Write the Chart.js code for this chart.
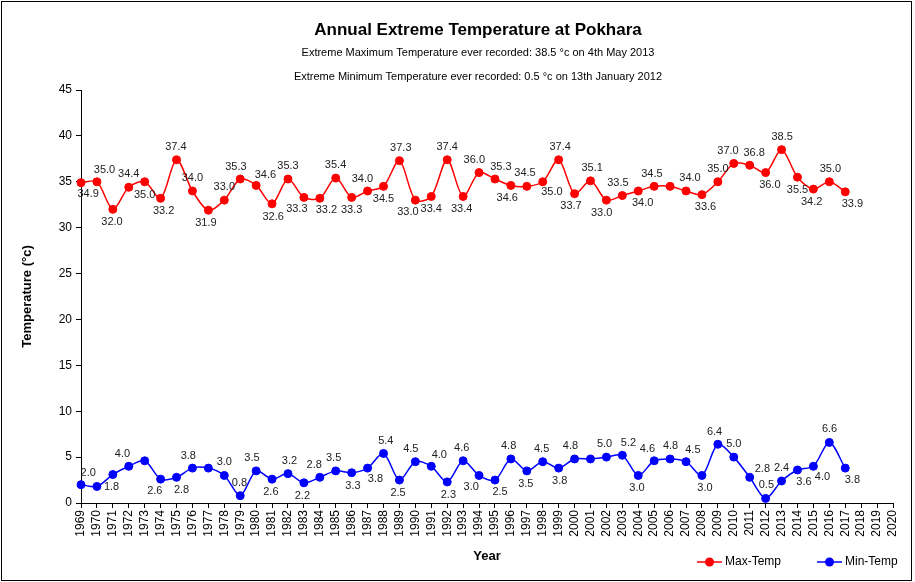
<!DOCTYPE html>
<html>
<head>
<meta charset="utf-8">
<title>Annual Extreme Temperature at Pokhara</title>
<script src="https://cdn.jsdelivr.net/npm/chart.js@4.4.1/dist/chart.umd.min.js"></script>
<style>
  html,body{margin:0;padding:0;background:#fff;}
  #wrap{width:915px;height:582px;position:relative;}
</style>
</head>
<body>
<div id="wrap"><canvas id="chart" width="915" height="582"></canvas></div>
<script>
// ---- data ----
const YEARS = ["1969","1970","1971","1972","1973","1974","1975","1976","1977","1978",
  "1979","1980","1981","1982","1983","1984","1985","1986","1987","1988",
  "1989","1990","1991","1992","1993","1994","1995","1996","1997","1998",
  "1999","2000","2001","2002","2003","2004","2005","2006","2007","2008",
  "2009","2010","2011","2012","2013","2014","2015","2016","2017","2018",
  "2019","2020"];

const MAX_TEMP = [34.9,35.0,32.0,34.4,35.0,33.2,37.4,34.0,31.9,33.0,
  35.3,34.6,32.6,35.3,33.3,33.2,35.4,33.3,34.0,34.5,
  37.3,33.0,33.4,37.4,33.4,36.0,35.3,34.6,34.5,35.0,
  37.4,33.7,35.1,33.0,33.5,34.0,34.5,34.5,34.0,33.6,
  35.0,37.0,36.8,36.0,38.5,35.5,34.2,35.0,33.9];

const MIN_TEMP = [2.0,1.8,3.1,4.0,4.6,2.6,2.8,3.8,3.8,3.0,
  0.8,3.5,2.6,3.2,2.2,2.8,3.5,3.3,3.8,5.4,
  2.5,4.5,4.0,2.3,4.6,3.0,2.5,4.8,3.5,4.5,
  3.8,4.8,4.8,5.0,5.2,3.0,4.6,4.8,4.5,3.0,
  6.4,5.0,2.8,0.5,2.4,3.6,4.0,6.6,3.8];

// years whose value label is not shown in the original
const MAX_NO_LABEL = ["2006"];
const MIN_NO_LABEL = ["1971","1973","1977","2001"];

const Y_TICKS = [0,5,10,15,20,25,30,35,40,45];

const TITLE = "Annual Extreme Temperature at Pokhara";
const SUBTITLES = [
  "Extreme Maximum Temperature ever recorded: 38.5 °c on 4th May 2013",
  "Extreme Minimum Temperature ever recorded: 0.5 °c on 13th January 2012"
];

const FONT = "Arial, 'Liberation Sans', sans-serif";

// ---- plugins ----
const frame = {
  id:"frame",
  beforeDraw(c){
    const ctx=c.ctx;
    ctx.save();
    ctx.fillStyle="#fff";
    ctx.fillRect(0,0,c.width,c.height);
    ctx.strokeStyle="#000";
    ctx.lineWidth=1;
    ctx.strokeRect(1.5,1.5,910,579);
    ctx.restore();
  },
  afterDraw(c){
    const ctx=c.ctx;
    ctx.save();
    ctx.fillStyle="#000";
    ctx.textAlign="center";
    ctx.textBaseline="middle";
    ctx.font="bold 17px "+FONT;
    ctx.fillText(TITLE,478,30);
    ctx.font="11px "+FONT;
    ctx.fillText(SUBTITLES[0],478,53);
    ctx.fillText(SUBTITLES[1],478,77);

    // legend, bottom right
    const items=[{t:"Max-Temp",c:"#ff0000",x:697},{t:"Min-Temp",c:"#0000ff",x:817}];
    ctx.font="12px "+FONT;
    ctx.textAlign="left";
    items.forEach(it=>{
      const y=562;
      ctx.strokeStyle=it.c;
      ctx.lineWidth=1.5;
      ctx.beginPath();ctx.moveTo(it.x,y);ctx.lineTo(it.x+25,y);ctx.stroke();
      ctx.fillStyle=it.c;
      ctx.beginPath();ctx.arc(it.x+12.5,y,4.5,0,Math.PI*2);ctx.fill();
      ctx.fillStyle="#000";
      ctx.fillText(it.t,it.x+28,y);
    });
    ctx.restore();
  }
};

// value labels: try the side away from the neighbouring segments,
// then other sides if it would run into a point or a label already placed
const valueLabels = {
  id:"valueLabels",
  afterDatasetsDraw(c){
    const ctx=c.ctx, area=c.chartArea;
    ctx.save();
    ctx.font="11px "+FONT;
    ctx.fillStyle="#222";
    ctx.textAlign="center";
    ctx.textBaseline="middle";
    const placed=[];
    c.data.datasets.forEach((ds,di)=>{
      c.getDatasetMeta(di).data.forEach(p=>placed.push({x0:p.x-5,x1:p.x+5,y0:p.y-5,y1:p.y+5}));
    });
    const hits=(b)=>b.y1>area.bottom-1||placed.some(o=>b.x0<o.x1&&b.x1>o.x0&&b.y0<o.y1&&b.y1>o.y0);
    c.data.datasets.forEach((ds,di)=>{
      const pts=c.getDatasetMeta(di).data;
      pts.forEach((p,i)=>{
        if(ds.noLabel.includes(YEARS[i])) return;
        const a=pts[i-1], b=pts[i+1];
        let dx=0, dy=0;
        if(a && b){
          [a,b].forEach(q=>{
            const vx=q.x-p.x, vy=q.y-p.y, l=Math.hypot(vx,vy)||1;
            dx-=vx/l; dy-=vy/l;
          });
          if(Math.hypot(dx,dy)<0.35){
            const sx=b.x-a.x, sy=b.y-a.y;
            dx=sy; dy=-sx;
            if(dy>0){dx=-dx;dy=-dy;}
          }
        } else {
          const q=a||b;
          dx=0.5; dy=(q.y<p.y)?1:-1;
        }
        const l=Math.hypot(dx,dy)||1;
        dx/=l; dy/=l;
        const txt=ds.data[i].toFixed(1);
        const w=ctx.measureText(txt).width;
        const cands=[[dx*16,dy*13],[-dx*16,-dy*13],[0,dy<0?-13:13],[0,dy<0?13:-13],
                     [w/2+7,0],[-w/2-7,0]];
        let box=null;
        for(const [ox,oy] of cands){
          const x=p.x+ox, y=p.y+oy;
          const bb={x:x,y:y,x0:x-w/2,x1:x+w/2,y0:y-5.5,y1:y+5.5};
          if(!box) box=bb;
          if(!hits(bb)){box=bb;break;}
        }
        placed.push(box);
        ctx.fillText(txt, box.x, box.y);
      });
    });
    ctx.restore();
  }
};

new Chart(document.getElementById("chart"),{
  type:"line",
  data:{
    labels:YEARS,
    datasets:[
      {label:"Max-Temp", data:MAX_TEMP, noLabel:MAX_NO_LABEL,
       borderColor:"#ff0000", backgroundColor:"#ff0000", borderWidth:1.5,
       pointRadius:4, pointBorderWidth:1, pointHoverRadius:4, tension:0.3},
      {label:"Min-Temp", data:MIN_TEMP, noLabel:MIN_NO_LABEL,
       borderColor:"#0000ff", backgroundColor:"#0000ff", borderWidth:1.5,
       pointRadius:4, pointBorderWidth:1, pointHoverRadius:4, tension:0.3}
    ]
  },
  options:{
    responsive:false,
    animation:false,
    layout:{padding:{top:90,right:22,bottom:0,left:0}},
    plugins:{legend:{display:false}, tooltip:{enabled:false}, title:{display:false}},
    scales:{
      x:{
        offset:false,
        grid:{display:true, drawOnChartArea:false, drawTicks:true, tickLength:5, color:"#000"},
        border:{display:true, color:"#000", width:1},
        ticks:{color:"#000", font:{family:FONT, size:12}, minRotation:90, maxRotation:90, autoSkip:false, padding:2},
        title:{display:true, text:"Year", color:"#000", font:{family:FONT, size:13, weight:"bold"}, padding:{top:0,bottom:18}},
        afterFit(s){ s.height=79; s.paddingLeft=0; s.paddingRight=0; }
      },
      y:{
        min:0, max:45,
        afterBuildTicks(s){ s.ticks=Y_TICKS.map(v=>({value:v})); },
        grid:{display:true, drawOnChartArea:false, drawTicks:true, tickLength:5, color:"#000"},
        border:{display:true, color:"#000", width:1},
        ticks:{color:"#000", font:{family:FONT, size:12}, padding:4},
        title:{display:true, text:"Temperature (°c)", color:"#000", font:{family:FONT, size:13, weight:"bold"}, padding:{top:20,bottom:0}},
        afterFit(s){ s.width=81; }
      }
    }
  },
  plugins:[frame, valueLabels]
});
</script>
</body>
</html>
